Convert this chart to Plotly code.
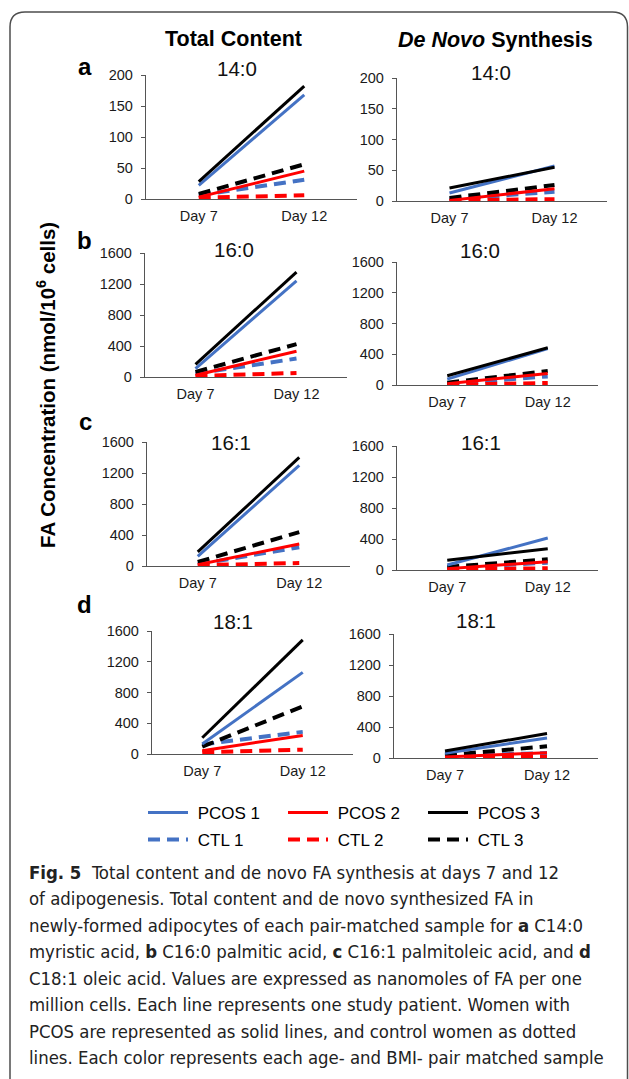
import plotly.graph_objects as go

W, H = 629, 1079

# ---------------- data ----------------
days = ["Day 7", "Day 12"]
series = ["PCOS 1", "PCOS 2", "PCOS 3", "CTL 1", "CTL 2", "CTL 3"]
# each panel: [day7, day12] per series, in the order of `series`
total_14_0 = [[22, 168], [3, 45], [28, 182], [6, 31], [2, 6], [8, 56]]
denovo_14_0 = [[13, 57], [1, 20], [21, 55], [3, 15], [1, 3], [5, 26]]
total_16_0 = [[108, 1241], [22, 333], [164, 1353], [43, 238], [13, 52], [65, 424]]
denovo_16_0 = [[76, 475], [17, 151], [121, 484], [13, 112], [4, 26], [30, 182]]
total_16_1 = [[125, 1297], [17, 285], [182, 1401], [22, 242], [9, 39], [52, 437]]
denovo_16_1 = [[64, 413], [17, 108], [125, 275], [26, 95], [9, 22], [39, 138]]
total_18_1 = [[129, 1062], [43, 241], [211, 1484], [125, 288], [22, 56], [95, 619]]
denovo_18_1 = [[61, 259], [13, 69], [91, 316], [26, 65], [4, 17], [35, 151]]

fa_labels = ["14:0", "16:0", "16:1", "18:1"]
panel_letters = ["a", "b", "c", "d"]
y_max = [200, 1600, 1600, 1600]
y_dtick = [50, 400, 400, 400]

panel_data = [total_14_0, denovo_14_0, total_16_0, denovo_16_0,
              total_16_1, denovo_16_1, total_18_1, denovo_18_1]

caption_lines = [
    "<b>Fig. 5</b>  Total content and de novo FA synthesis at days 7 and 12",
    "of adipogenesis. Total content and de novo synthesized FA in",
    "newly-formed adipocytes of each pair-matched sample for <b>a</b> C14:0",
    "myristic acid, <b>b</b> C16:0 palmitic acid, <b>c</b> C16:1 palmitoleic acid, and <b>d</b>",
    "C18:1 oleic acid. Values are expressed as nanomoles of FA per one",
    "million cells. Each line represents one study patient. Women with",
    "PCOS are represented as solid lines, and control women as dotted",
    "lines. Each color represents each age- and BMI- pair matched sample",
]

# ---------------- styles / layout geometry (pixels) ----------------
colors = ["#4472C4", "#FF0000", "#000000", "#4472C4", "#FF0000", "#000000"]
dashed = [False, False, False, True, True, True]
draw_order = [3, 4, 5, 0, 1, 2]

# (x0, x1, ytop, ybottom) in pixels for each panel
geom = [
    (146, 357, 75, 199), (397, 607, 78, 201),
    (145, 347, 253, 377), (397, 598, 262, 385),
    (147, 350, 442, 566), (397, 598, 446, 570),
    (152, 353, 631, 754), (394, 598, 634, 758),
]
title_pos = [(237, 68), (491, 72), (234, 249), (480, 250),
             (231, 442), (481, 442), (233, 621), (476, 620)]
letter_pos = [(85, 66), (84, 240), (85, 421), (84, 604)]

FONT = "Liberation Sans, Arial, Helvetica, sans-serif"
CAP_FONT = "Liberation Sans Narrow, DejaVu Sans Condensed, Arial Narrow, sans-serif"
AXC = "#555555"


def px(x):
    return x / W


def py(y):
    return 1 - y / H


fig = go.Figure()

for p, data in enumerate(panel_data):
    idx = "" if p == 0 else str(p + 1)
    for s in draw_order:
        fig.add_trace(go.Scatter(
            x=days, y=data[s], mode="lines", name="\u00a0" + series[s],
            xaxis="x" + idx, yaxis="y" + idx,
            line=dict(color=colors[s], width=4 if dashed[s] else 3,
                      dash="12px,7px" if dashed[s] else "solid"),
            showlegend=(p == 0),
            legend="legend2" if dashed[s] else "legend",
            hoverinfo="x+y+name",
        ))
    x0, x1, yt, yb = geom[p]
    row = p // 2
    fig.layout["xaxis" + idx] = dict(
        domain=[px(x0), px(x1)], anchor="y" + idx, type="category",
        range=[-0.5, 1.5], showline=True, linecolor=AXC, linewidth=1.3,
        ticks="", showgrid=False, zeroline=False, ticklabelstandoff=3,
        tickfont=dict(family=FONT, size=14.5, color="#1a1a1a"), fixedrange=True,
    )
    fig.layout["yaxis" + idx] = dict(
        domain=[py(yb), py(yt)], anchor="x" + idx,
        range=[0, y_max[row]], dtick=y_dtick[row], tick0=0,
        showline=True, linecolor=AXC, linewidth=1.3,
        ticks="outside", ticklen=4, tickcolor=AXC, tickwidth=1.3,
        showgrid=False, zeroline=False, ticklabelstandoff=5,
        tickfont=dict(family=FONT, size=14.5, color="#1a1a1a"), fixedrange=True,
    )

annotations = []
for p in range(8):
    tx, ty = title_pos[p]
    annotations.append(dict(x=px(tx), y=py(ty), xref="paper", yref="paper",
                            text=fa_labels[p // 2], showarrow=False,
                            xanchor="center", yanchor="middle",
                            font=dict(family=FONT, size=20.5, color="#111")))
for i, l in enumerate(panel_letters):
    lx, ly = letter_pos[i]
    annotations.append(dict(x=px(lx), y=py(ly), xref="paper", yref="paper",
                            text="<b>%s</b>" % l, showarrow=False,
                            xanchor="center", yanchor="middle",
                            font=dict(family=FONT, size=24, color="#000")))
annotations.append(dict(x=px(233), y=py(39), xref="paper", yref="paper",
                        text="<b>Total Content</b>", showarrow=False,
                        xanchor="center", yanchor="middle",
                        font=dict(family=FONT, size=21.5, color="#000")))
annotations.append(dict(x=px(495), y=py(40), xref="paper", yref="paper",
                        text="<b><i>De Novo</i> Synthesis</b>", showarrow=False,
                        xanchor="center", yanchor="middle",
                        font=dict(family=FONT, size=21.5, color="#000")))
annotations.append(dict(x=px(46), y=py(385), xref="paper", yref="paper",
                        text="<b>FA Concentration (nmol/10<sup>6</sup> cells)</b>",
                        textangle=-90, showarrow=False,
                        xanchor="center", yanchor="middle",
                        font=dict(family=FONT, size=20.5, color="#000")))
for i, line in enumerate(caption_lines):
    annotations.append(dict(x=px(27), y=py(872 + 26.5 * i), xref="paper", yref="paper",
                            text=line, showarrow=False, xanchor="left", yanchor="middle",
                            align="left",
                            font=dict(family=CAP_FONT, size=18.4, color="#222")))

# rounded frame
x0b, x1b, ytb, ybb, r = 10, 627.5, 12, 1100, 15
path = ("M {a},{b} L {a},{c} Q {a},{d} {e},{d} L {f},{d} Q {g},{d} {g},{c} L {g},{b}"
        .format(a=px(x0b), b=py(ybb), c=py(ytb + r), d=py(ytb), e=px(x0b + r),
                f=px(x1b - r), g=px(x1b)))

leg_common = dict(orientation="h", xanchor="left", yanchor="middle",
                  entrywidth=85, entrywidthmode="pixels", itemwidth=40,
                  font=dict(family=FONT, size=17, color="#000"),
                  bgcolor="rgba(0,0,0,0)", traceorder="normal")

fig.update_layout(
    width=W, height=H, margin=dict(l=0, r=0, t=0, b=0, autoexpand=False),
    paper_bgcolor="white", plot_bgcolor="white",
    font=dict(family=FONT, color="#000"),
    annotations=annotations,
    shapes=[dict(type="path", path=path, xref="paper", yref="paper",
                 line=dict(color="#4d4d4d", width=1.5))],
    legend=dict(x=px(143), y=py(813), **leg_common),
    legend2=dict(x=px(143), y=py(840), **leg_common),
    showlegend=True,
)

fig.write_html("out.html",
               config={"displayModeBar": False},
               post_script="document.body.style.margin='0';document.body.style.overflow='hidden';")
